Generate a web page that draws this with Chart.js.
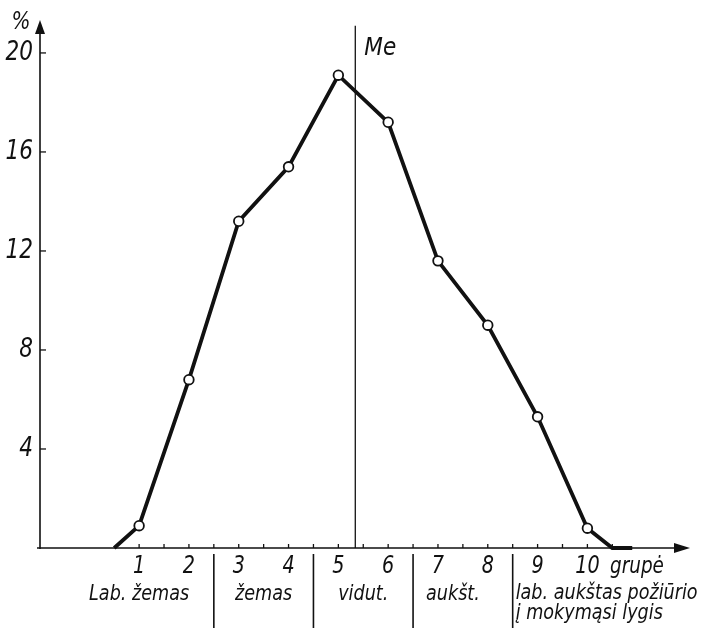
<!DOCTYPE html>
<html>
<head>
<meta charset="utf-8">
<script src="https://cdn.jsdelivr.net/npm/chart.js@4/dist/chart.umd.min.js"></script>
<style>
  html, body { margin:0; padding:0; background:#fff; }
  canvas { display:block; }
</style>
</head>
<body>
<canvas id="chart" width="702" height="630"></canvas>
<script>
// Pasiskirstymas pagal grupes (%), su mediana Me
const groups = [1, 2, 3, 4, 5, 6, 7, 8, 9, 10];
const percents = [0.9, 6.8, 13.2, 15.4, 19.1, 17.2, 11.6, 9.0, 5.3, 0.8];
const leftZeroX = [0.5];
const rightZeroX = [10.5, 10.9];
const medianX = 5.34;
const yTicks = [4, 8, 12, 16, 20];
const xTicks = [1, 2, 3, 4, 5, 6, 7, 8, 9, 10];
const bandEdges = [2.5, 4.5, 6.5, 8.5];
const bandLabels = ['Lab. žemas', 'žemas', 'vidut.', 'aukšt.', ['lab. aukštas požiūrio', 'į mokymąsi lygis']];
const bandLabelX = [1.0, 3.5, 5.5, 7.3, 8.56];

const FONT = "'DejaVu Sans', sans-serif";
const INK = '#111';
const SQUEEZE = 0.8;   // letra estrecha, como el rotulado original

const curve = []
  .concat(leftZeroX.map(x => ({ x, y: 0 })))
  .concat(groups.map((g, i) => ({ x: g, y: percents[i] })))
  .concat(rightZeroX.map(x => ({ x, y: 0 })));
const markers = groups.map((g, i) => ({ x: g, y: percents[i] }));

function narrowText(ctx, txt, px, py, sx) {
  ctx.save();
  ctx.translate(px, py);
  ctx.scale(sx || SQUEEZE, 1);
  ctx.fillText(txt, 0, 0);
  ctx.restore();
}

const axesPlugin = {
  id: 'sketchAxes',
  beforeDatasetsDraw(chart) {
    const { ctx, scales: { x, y } } = chart;
    const x0 = x.getPixelForValue(x.min), y0 = y.getPixelForValue(0);
    const xEnd = x.getPixelForValue(x.max), yTop = y.getPixelForValue(y.max);
    ctx.save();
    ctx.strokeStyle = INK; ctx.fillStyle = INK; ctx.lineWidth = 1.6;

    // ejes
    ctx.beginPath();
    ctx.moveTo(x0, y0 + 1); ctx.lineTo(x0, yTop + 8);
    ctx.moveTo(x0 - 3, y0); ctx.lineTo(xEnd - 10, y0);
    ctx.stroke();
    // flechas
    ctx.beginPath();
    ctx.moveTo(x0, yTop - 2); ctx.lineTo(x0 - 5, yTop + 12); ctx.lineTo(x0 + 5, yTop + 12); ctx.closePath(); ctx.fill();
    ctx.beginPath();
    ctx.moveTo(xEnd, y0); ctx.lineTo(xEnd - 16, y0 - 5); ctx.lineTo(xEnd - 16, y0 + 5); ctx.closePath(); ctx.fill();

    // marcas del eje y
    ctx.lineWidth = 1.3;
    yTicks.forEach(v => {
      const py = y.getPixelForValue(v);
      ctx.beginPath(); ctx.moveTo(x0, py); ctx.lineTo(x0 + 6, py); ctx.stroke();
    });
    // marcas del eje x (cada media unidad)
    for (let v = xTicks[0]; v <= xTicks[xTicks.length - 1] + 0.5; v += 0.5) {
      const px = x.getPixelForValue(v);
      ctx.beginPath(); ctx.moveTo(px, y0); ctx.lineTo(px, y0 - 4); ctx.stroke();
    }

    // separadores de grupos
    ctx.lineWidth = 1.6;
    bandEdges.forEach(v => {
      const px = x.getPixelForValue(v);
      ctx.beginPath(); ctx.moveTo(px, y0 + 6); ctx.lineTo(px, 628); ctx.stroke();
    });

    // textos
    ctx.font = 'italic 27px ' + FONT;
    ctx.textAlign = 'right'; ctx.textBaseline = 'middle';
    yTicks.forEach(v => narrowText(ctx, String(v), 33, y.getPixelForValue(v)));

    ctx.font = 'italic 25px ' + FONT;
    ctx.textAlign = 'center'; ctx.textBaseline = 'alphabetic';
    narrowText(ctx, '%', 21, 29);

    ctx.font = 'italic 24px ' + FONT;
    xTicks.forEach(v => narrowText(ctx, String(v), x.getPixelForValue(v), y0 + 25));
    ctx.textAlign = 'left';
    ctx.font = 'italic 23px ' + FONT;
    narrowText(ctx, 'grupė', 610, y0 + 25);

    ctx.font = 'italic 22px ' + FONT;
    bandLabels.forEach((lab, i) => {
      const px = x.getPixelForValue(bandLabelX[i]);
      if (Array.isArray(lab)) {
        ctx.textAlign = 'left';
        lab.forEach((line, k) => narrowText(ctx, line, px, 599 + k * 20));
      } else {
        ctx.textAlign = 'center';
        narrowText(ctx, lab, px, 600);
      }
    });

    ctx.font = 'italic 24px ' + FONT;
    ctx.textAlign = 'left';
    narrowText(ctx, 'Me', x.getPixelForValue(medianX) + 9, 55, 0.9);
    ctx.restore();
  }
};

new Chart(document.getElementById('chart'), {
  type: 'line',
  data: {
    datasets: [
      {
        label: 'Me',
        data: [{ x: medianX, y: 0 }, { x: medianX, y: 21.1 }],
        borderColor: INK, borderWidth: 1.3, pointRadius: 0, clip: false, order: 3
      },
      {
        label: 'Kreivė',
        data: curve,
        borderColor: INK, borderWidth: 3.8, pointRadius: 0, tension: 0, clip: false, order: 2
      },
      {
        label: 'Grupės',
        data: markers,
        showLine: false,
        pointRadius: 4.8, pointBorderWidth: 1.8,
        pointBackgroundColor: '#fff', pointBorderColor: INK, clip: false, order: 1
      }
    ]
  },
  options: {
    responsive: false,
    animation: false,
    devicePixelRatio: 1,
    layout: { padding: { left: 40, right: 12, top: 22, bottom: 82 } },
    plugins: { legend: { display: false }, tooltip: { enabled: false } },
    scales: {
      x: { type: 'linear', min: -0.99, max: 12.06, display: false },
      y: { type: 'linear', min: 0, max: 21.25, display: false }
    }
  },
  plugins: [axesPlugin]
});
</script>
</body>
</html>
